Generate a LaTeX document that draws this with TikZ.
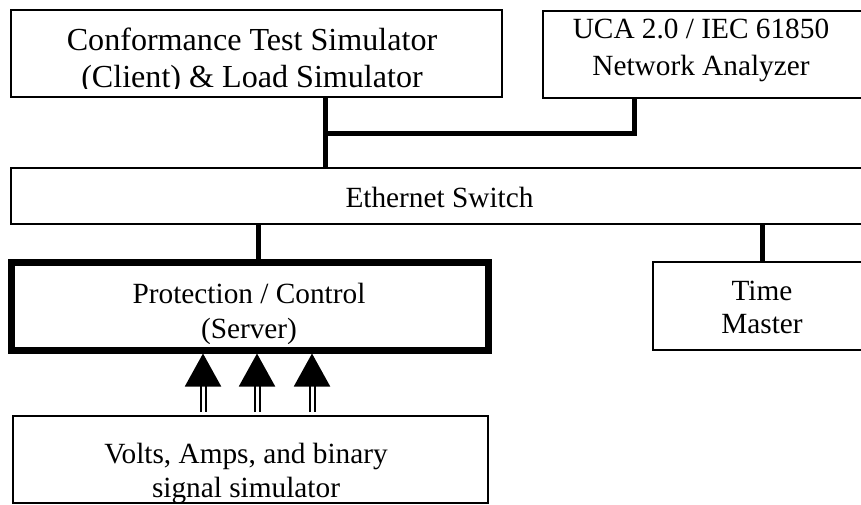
\documentclass[tikz,border=0pt]{standalone}
\usepackage{fontspec}
\setmainfont{Liberation Serif}
\usetikzlibrary{arrows.meta,positioning,fit,calc}
\newcommand{\bigsz}{\fontsize{32.1}{37}\selectfont}
\newcommand{\normsz}{\fontsize{29.3}{35}\selectfont}

\begin{document}
\begin{tikzpicture}[x=1pt,y=-1pt,line width=2pt,
  box/.style={draw,inner sep=0pt,fit={#1}},
  txt/.style={align=center,inner sep=0pt,anchor=base,font=\normsz},
  wire/.style={line width=5pt},
  sig/.style={double=white,double distance=3pt,line width=2pt,
    -{Triangle[length=33pt,width=36pt]},shorten <=3pt}]
\clip (0,0) rectangle (861,504);

% boxes
\node[box={(11,10) (502,96.5)}] (conf) {};
\node[box={(543,11) (880,98)}] (uca) {};
\node[box={(11,168) (880,224)}] (eth) {};
\node[box={(11.5,262) (488.5,350)},line width=7pt] (prot) {};
\node[box={(653,262) (880,350)}] (time) {};
\node[box={(12.5,416) (488,503)}] (volts) {};

% labels (the lower lines are cut off by the frames)
\begin{scope}
\clip (conf.north west) rectangle (502,88);
\node[txt,font=\bigsz] (confT) at (252,87)
  {Conformance Test Simulator\\(Client) \& Load Simulator};
\end{scope}
\node[txt,font=\fontsize{29.3}{37}\selectfont] (ucaT) at (701,75)
  {UCA 2.0 / IEC 61850\\Network Analyzer};
\node[txt] (ethT) at (439.5,207) {Ethernet Switch};
\begin{scope}
\clip (15,266) rectangle (485,343);
\node[txt] (protT) at (249,338) {Protection / Control\\(Server)};
\end{scope}
\node[txt,font=\fontsize{29.3}{33}\selectfont] (timeT) at (762,333) {Time\\Master};
\node[txt,font=\fontsize{29.3}{34}\selectfont] (voltsT) at (246,497)
  {Volts, Amps, and binary\\signal simulator};

% network
\coordinate (tapC) at (325,0);
\coordinate (tapU) at (634,0);
\coordinate (join) at (325,133);
\coordinate (tapP) at (258,0);
\coordinate (tapT) at (762,0);
\draw[wire] (conf.south -| tapC) -- (eth.north -| tapC);
\draw[wire] (uca.south -| tapU) |- (join);
\draw[wire] (eth.south -| tapP) -- (prot.north -| tapP);
\draw[wire] (eth.south -| tapT) -- (time.north -| tapT);

% analog / binary inputs
\foreach \x [count=\i] in {203,257,312} {
  \coordinate (in\i) at (\x,0);
  \draw[sig] (volts.north -| in\i) -- (prot.south -| in\i);
}
\end{tikzpicture}
\end{document}
